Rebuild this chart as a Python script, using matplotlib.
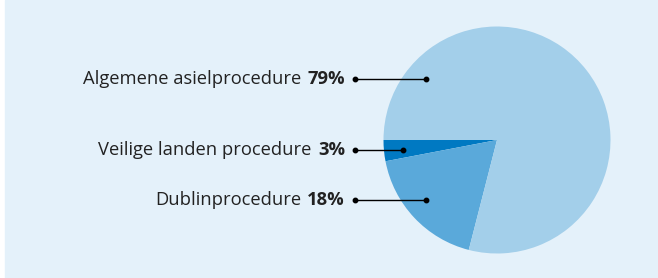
import matplotlib.pyplot as plt
from matplotlib.patches import Rectangle

labels = ["Veilige landen procedure", "Dublinprocedure", "Algemene asielprocedure"]
shares = [3, 18, 79]
colors = ["#0079c2", "#5aa9da", "#a3cfea"]
label_y = [150, 200, 79]          # label rows, pixels from top
dot_x = [403, 426, 426]           # marker inside the slice

W, H = 658, 278
plt.rcParams['font.family'] = ['Open Sans', 'DejaVu Sans']

fig = plt.figure(figsize=(W / 100, H / 100), dpi=100)
fig.patch.set_facecolor("white")
ax = fig.add_axes([0, 0, 1, 1])

ax.add_patch(Rectangle((5, 0), W - 5, H, color="#e4f1fa", zorder=0))

ax.pie(shares, colors=colors, startangle=180, counterclock=True,
       center=(497, H - 140), radius=113.5, frame=True,
       wedgeprops=dict(linewidth=0))
ax.set_xlim(0, W)
ax.set_ylim(0, H)
ax.set_aspect("equal")
ax.axis("off")

fig.canvas.draw()
r = fig.canvas.get_renderer()
for lab, val, y, dx in zip(labels, shares, label_y, dot_x):
    yy = H - y
    ax.plot([355, dx], [yy, yy], color="black", lw=1, zorder=5)
    ax.plot([355, dx], [yy, yy], "o", color="black", ms=3.2, zorder=6)
    t = ax.text(345, yy, f"{val}%", fontsize=13.2, fontweight="bold",
                ha="right", va="center", color="#222222")
    bb = t.get_window_extent(r)
    ax.text(bb.x0 - 6, yy, lab, fontsize=13.2, ha="right", va="center",
            color="#222222")

fig.savefig("out.png", dpi=100)
